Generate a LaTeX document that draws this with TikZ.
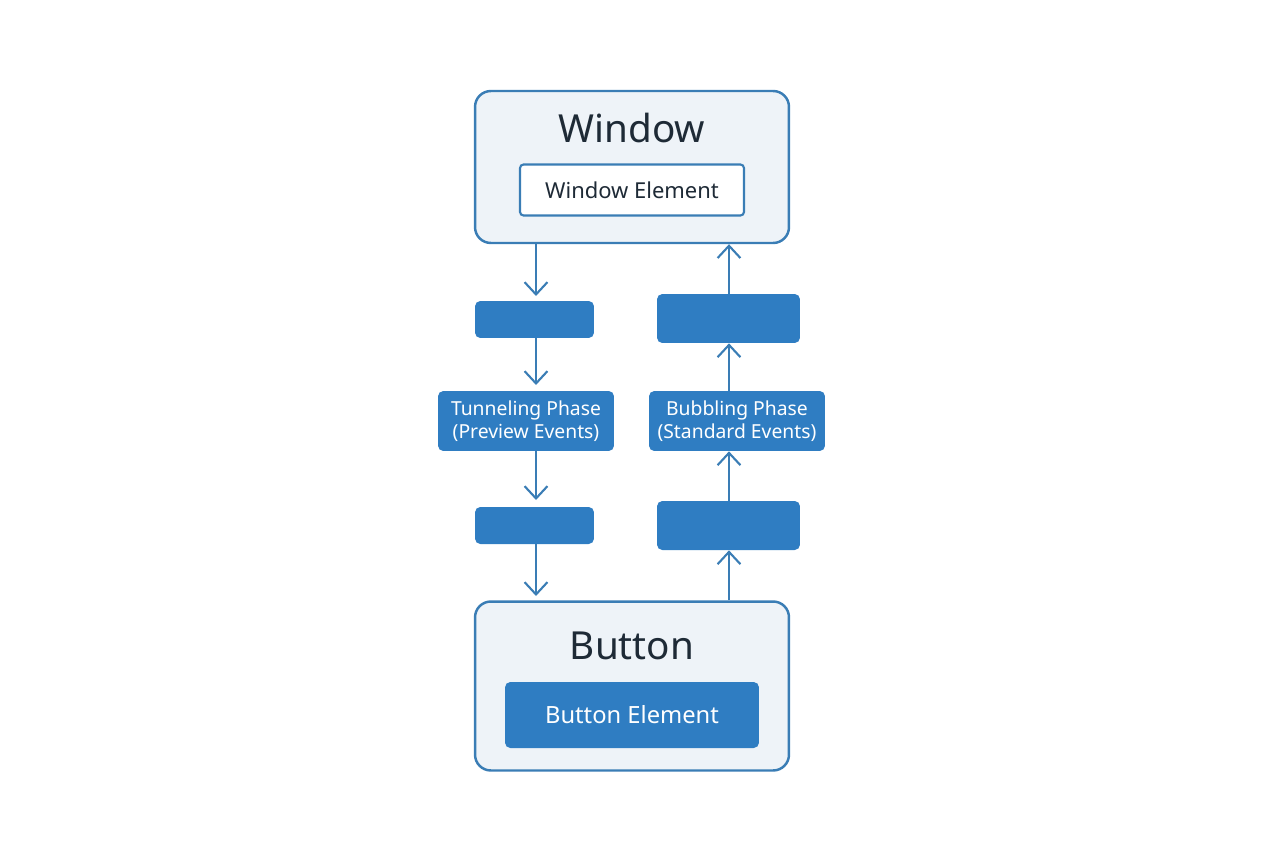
\documentclass[tikz,border=0pt]{standalone}
\usepackage{fontspec}
\setmainfont{Noto Sans}
\usetikzlibrary{arrows.meta}
\definecolor{edge}{HTML}{3A7DB5}
\definecolor{solid}{HTML}{2F7DC2}
\definecolor{pale}{HTML}{EEF3F8}
\definecolor{ink}{HTML}{1E2A36}
\begin{document}
\begin{tikzpicture}[
        x=0.02cm, y=-0.02cm,
        outer/.style={draw=edge, fill=pale, line width=1.4pt, rounded corners=9pt, minimum width=6.28cm},
        inner/.style={draw=edge, fill=white, line width=1.2pt, rounded corners=2pt, text=ink, font=\fontsize{12.5}{15}\selectfont},
        block/.style={fill=solid, rounded corners=3pt, text=white, align=center, font=\fontsize{11}{13}\selectfont},
        flow/.style={draw=edge, line width=1.2pt, -{Straight Barb[length=7pt,width=13pt]}},
      ]
      \useasboundingbox (0,0) rectangle (1264,848);

      \node[outer, minimum height=3.04cm] (window) at (632,167) {};
      \node[text=ink, font=\fontsize{22}{26}\selectfont] (windowtitle) at (632,128) {Window};
      \node[inner, minimum width=4.48cm, minimum height=1.02cm] (windowelem) at (632,190) {Window Element};

      \node[outer, minimum height=3.38cm] (button) at (632,686) {};
      \node[text=ink, font=\fontsize{22}{26}\selectfont] (buttontitle) at (632,646) {Button};
      \node[block, minimum width=5.08cm, minimum height=1.32cm, font=\fontsize{13.5}{16}\selectfont] (buttonelem) at (632,715) {Button Element};

      % tunneling side
      \node[block, minimum width=2.38cm, minimum height=0.74cm] (tunA) at (534.5,319.5) {};
      \node[block, minimum width=3.52cm, minimum height=1.2cm] (tunnel) at (526,421) {Tunneling Phase\\(Preview Events)};
      \node[block, minimum width=2.38cm, minimum height=0.74cm] (tunB) at (534.5,525.5) {};

      % bubbling side
      \node[block, minimum width=2.86cm, minimum height=0.98cm] (bubB) at (728.5,525.5) {};
      \node[block, minimum width=3.52cm, minimum height=1.2cm] (bubble) at (737,421) {Bubbling Phase\\(Standard Events)};
      \node[block, minimum width=2.86cm, minimum height=0.98cm] (bubA) at (728.5,318.5) {};

      \draw[flow] (window.south -| 536,0) -- (536,296);
      \draw[flow] (tunA.south -| 536,0) -- (536,385);
      \draw[flow] (tunnel.south -| 536,0) -- (536,500);
      \draw[flow] (tunB.south -| 536,0) -- (536,596);

      \draw[flow] (button.north -| 729,0) -- (bubB.south -| 729,0);
      \draw[flow] (bubB.north -| 729,0) -- (bubble.south -| 729,0);
      \draw[flow] (bubble.north -| 729,0) -- (bubA.south -| 729,0);
      \draw[flow] (bubA.north -| 729,0) -- (window.south -| 729,0);
\end{tikzpicture}
\end{document}
